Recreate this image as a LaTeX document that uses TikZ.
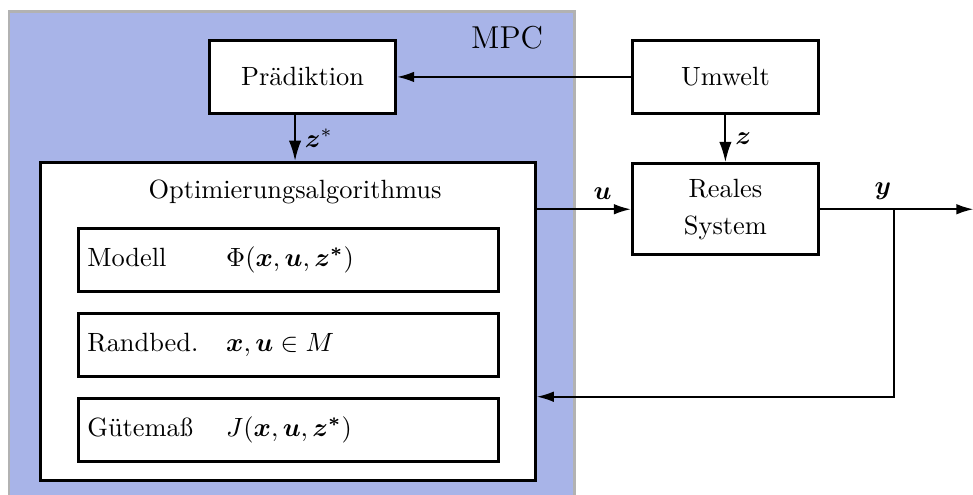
\documentclass[tikz,border=0pt]{standalone}
\usepackage{amsmath,amssymb}
\usepackage{tikz}
\usetikzlibrary{positioning,arrows.meta}
\definecolor{mpcblue}{RGB}{168,180,232}
\definecolor{mpcgray}{RGB}{178,178,178}
\newcommand{\fnrow}[2]{\makebox[1.85cm][l]{#1}$#2$}

\begin{document}
\begin{tikzpicture}[>={Latex[length=6.4pt,width=4pt]},semithick,
  block/.style={draw,very thick,fill=white,minimum width=2.48cm,minimum height=0.97cm},
  fnbox/.style={draw,very thick,fill=white,text width=5.355cm,minimum height=0.84cm,align=left},
  vsig/.style={->,thick,>={Latex[length=7.7pt,width=4.7pt]}}]
  \useasboundingbox (0,0) rectangle (12.96,-6.59);
  \draw[mpcgray,line width=1.1pt,fill=mpcblue] (0.12,-0.153) rectangle (7.656,-6.8);
  \node[anchor=base east,font=\large] (mpc) at (7.36,-0.652) {MPC};

  \node[block] (pred) at (4.03,-1.025) {Prädiktion};
  \node[block] (env) [right=3.11cm of pred] {Umwelt};
  \node[block,minimum height=1.21cm,align=center] (plant) [below=0.63cm of env] {Reales\\[2pt]System};

  \node[draw,very thick,fill=white,minimum width=6.59cm,minimum height=4.23cm] (opt) at (3.835,-4.28) {};
  \node (opttitle) at (3.93,-2.56) {Optimierungsalgorithmus};
  \node[fnbox,anchor=north west] (model) at (1.025,-3.02)
    {\fnrow{Modell}{\Phi(\boldsymbol{x},\boldsymbol{u},\boldsymbol{z^*})}};
  \node[fnbox] (constr) [below=0.25cm of model]
    {\fnrow{Randbed.}{\boldsymbol{x},\boldsymbol{u}\in M}};
  \node[fnbox] (cost) [below=0.25cm of constr]
    {\fnrow{Gütemaß}{J(\boldsymbol{x},\boldsymbol{u},\boldsymbol{z^*})}};

  \coordinate[right=0.985cm of plant.east] (branch);
  \coordinate[right=2.04cm of plant.east] (out);

  \draw[->] (env) -- (pred);
  \draw[vsig] (pred.south -| opttitle) -- node[right] {$\boldsymbol{z}^*$} (opt.north -| opttitle);
  \draw[vsig] (env) -- node[right] {$\boldsymbol{z}$} (plant);
  \draw[->] (opt.east |- plant) -- node[above,pos=0.7] {$\boldsymbol{u}$} (plant);
  \draw[->] (plant) -- node[above,pos=0.41] {$\boldsymbol{y}$} (out);
  \draw[->] (branch) |- (opt.east |- cost.north);
\end{tikzpicture}
\end{document}
